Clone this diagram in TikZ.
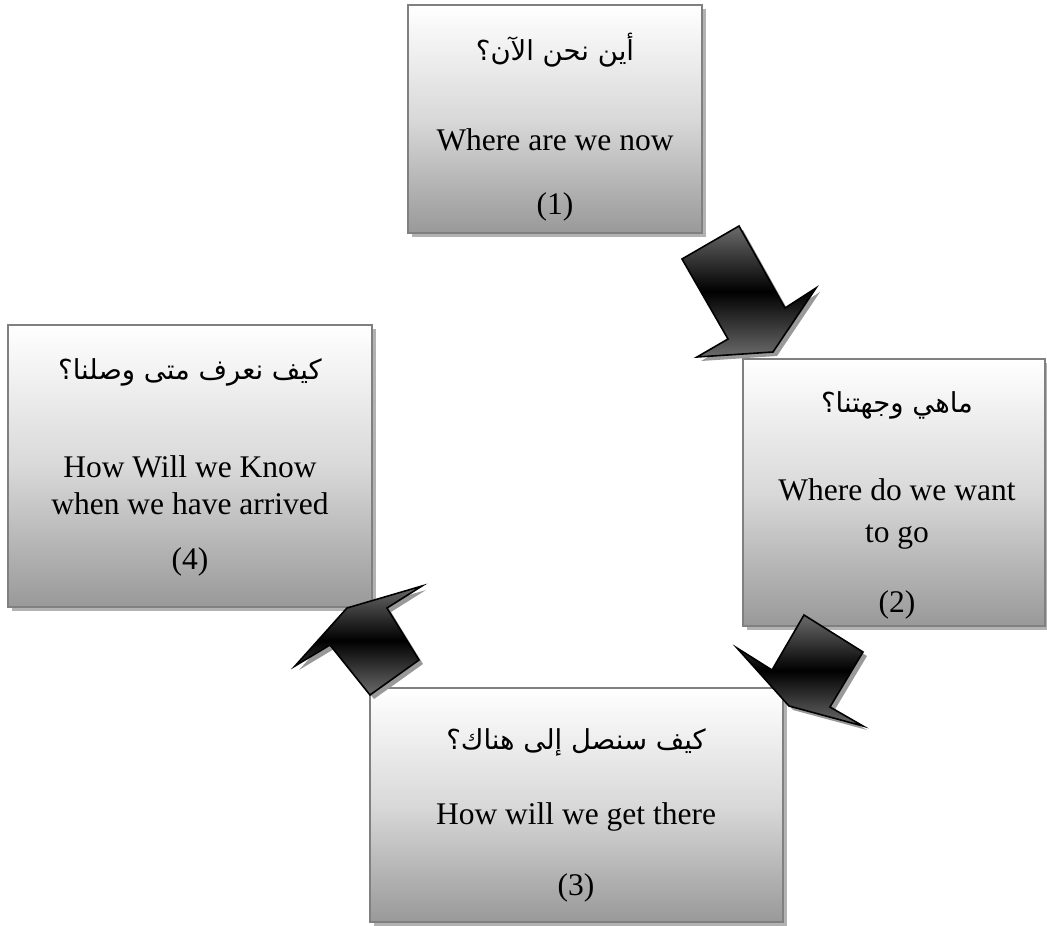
\documentclass[tikz,border=0pt]{standalone}
\usepackage{fontspec}
\setmainfont{Liberation Serif}
\newfontfamily\arabicfont[Script=Arabic]{DejaVu Sans}
\TeXXeTstate=1
\usetikzlibrary{shadows}
\begin{document}
\begin{tikzpicture}[x=1pt,y=-1pt,
  box/.style={draw=black!50, line width=2pt, top color=white, bottom color=black!40, middle color=black!15,
    drop shadow={shadow xshift=4pt, shadow yshift=-4pt, fill=black!30, opacity=1},
    inner sep=0pt},
  lat/.style={font=\fontsize{31.5}{42}\selectfont, align=center, inner sep=0pt},
  ara/.style={font=\arabicfont\fontsize{27.5}{32}\selectfont, inner sep=0pt},
  arrowshape/.style={draw=black, line width=1.6pt, top color=black!58, bottom color=black!58, middle color=black},
  arrowshadow/.style={fill=black!40},
]
\useasboundingbox (0,0) rectangle (1047,926);

% boxes
\node[box, minimum width=294pt, minimum height=228pt] (b1) at (555,119) {};
\node[box, minimum width=302pt, minimum height=267pt] (b2) at (894,492.5) {};
\node[box, minimum width=413pt, minimum height=234pt] (b3) at (576.5,805) {};
\node[box, minimum width=364pt, minimum height=282pt] (b4) at (190,466) {};

% texts box 1
\node[ara] (t1a) at (555,50) {\beginR أين نحن الآن؟\endR};
\node[lat] (t1b) at (555,140) {Where are we now};
\node[lat] (t1c) at (555,207) {(1)};
% box 2
\node[ara] (t2a) at (897,405) {\beginR ماهي وجهتنا؟\endR};
\node[lat] (t2b) at (897,514) {Where do we want\\to go};
\node[lat] (t2c) at (897,605) {(2)};
% box 3
\node[ara] (t3a) at (576,742) {\beginR كيف سنصل إلى هناك؟\endR};
\node[lat] (t3b) at (576,817) {How will we get there};
\node[lat] (t3c) at (576,888) {(3)};
% box 4
\node[ara] (t4a) at (190,372) {\beginR كيف نعرف متى وصلنا؟\endR};
\node[lat, font=\fontsize{31.5}{37}\selectfont] (t4b) at (190,485) {How Will we Know\\when we have arrived};
\node[lat] (t4c) at (190,562) {(4)};

% arrow 1 (box1 -> box2)
\fill[arrowshadow, shift={(4,4)}] (682,259) -- (739,226) -- (785,308) -- (816,288) -- (773,352) -- (697,357) -- (728,339) -- cycle;
\shadedraw[arrowshape] (682,259) -- (739,226) -- (785,308) -- (816,288) -- (773,352) -- (697,357) -- (728,339) -- cycle;

% arrow 2 (box2 -> box3)
\fill[arrowshadow, shift={(4,4)}] (804,615) -- (863,652) -- (830,707) -- (863,726) -- (789,706) -- (737,648) -- (772,670) -- cycle;
\shadedraw[arrowshape] (804,615) -- (863,652) -- (830,707) -- (863,726) -- (789,706) -- (737,648) -- (772,670) -- cycle;

% arrow 3 (box3 -> box4)
\fill[arrowshadow, shift={(4,4)}] (347,608) -- (422,586) -- (387,608) -- (419,660) -- (370,695) -- (330,645) -- (295,666) -- cycle;
\shadedraw[arrowshape] (347,608) -- (422,586) -- (387,608) -- (419,660) -- (370,695) -- (330,645) -- (295,666) -- cycle;
\end{tikzpicture}
\end{document}
